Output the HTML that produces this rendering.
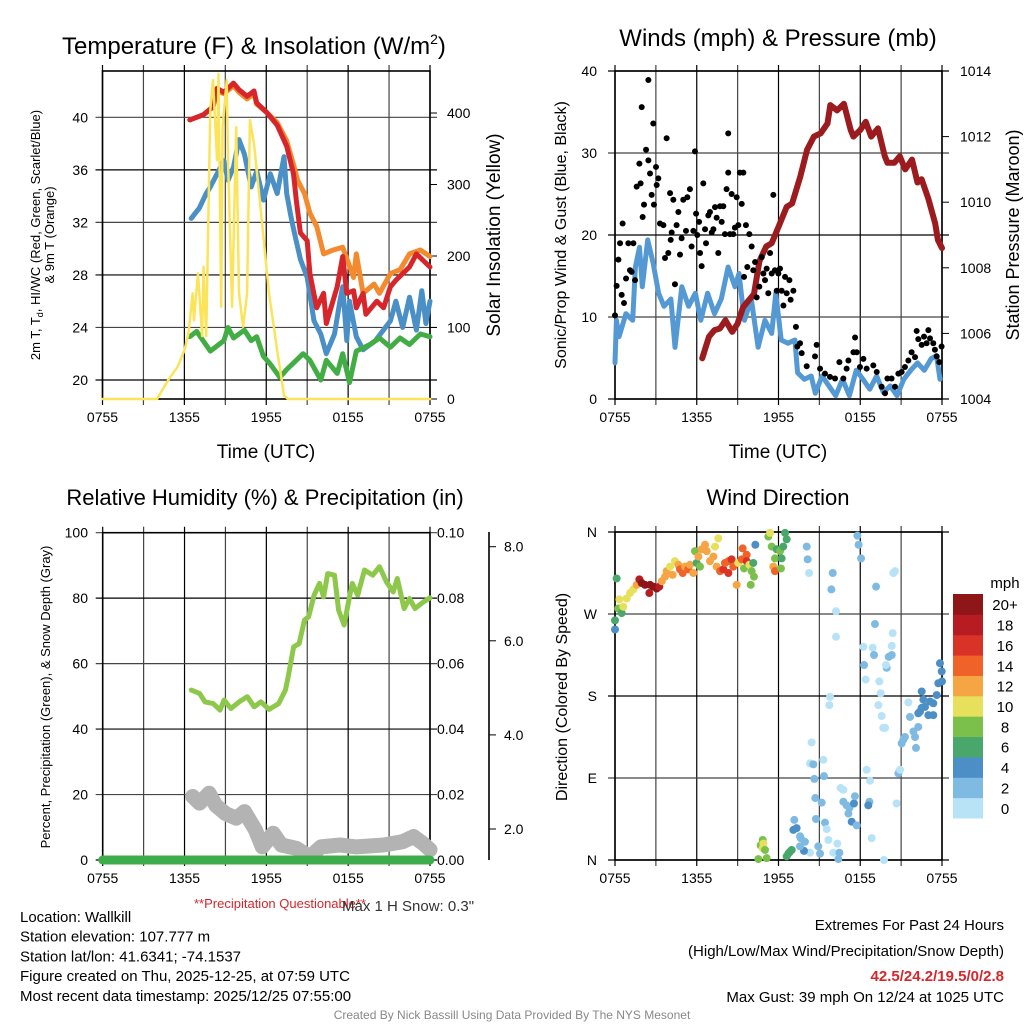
<!DOCTYPE html>
<html><head><meta charset="utf-8"><style>
html,body{margin:0;padding:0;background:#fff}
svg{display:block;font-family:"Liberation Sans",sans-serif}
</style></head><body>
<svg id="c" width="1024" height="1024" viewBox="0 0 1024 1024" xmlns="http://www.w3.org/2000/svg">
<g id="g"></g>
</svg>
<script>
// ---------- DATA (time in hours since 0755 UTC) ----------
const timeTickLabels=["0755","1355","1955","0155","0755"];
const tempTicks=[20,24,28,32,36,40];
const solarTicks=[0,100,200,300,400];
const windTicks=[0,10,20,30,40];
const presTicks=[1004,1006,1008,1010,1012,1014];
const rhTicks=[0,20,40,60,80,100];
const precipTicks=["0.00","0.02","0.04","0.06","0.08","0.10"];
const snowTicks=[2,4,6,8];
const dirTicks=["N","E","S","W","N"];
const speedBins=["0","2","4","6","8","10","12","14","16","18","20+"];

const redT_t=[6.4,7.4,8.1,8.4,8.9,9.6,10.0,10.6,11.1,11.3,12.0,12.8,13.5,14.0,14.2,14.5,15.0,15.2,15.7,16.2,16.4,17.2,17.6,17.9,18.4,18.6,19.1,19.3,20.1,20.6,21.1,21.5,22.0,22.5,23.0,23.5,24.0];
const redT_v=[39.8,40.2,40.8,42.2,41.9,42.6,42.1,41.6,42.0,41.1,40.4,39.4,37.8,35.7,33.7,31.2,30.6,28.1,25.5,26.6,24.3,27.1,29.4,26.6,26.8,25.5,26.6,25.0,26.0,25.5,27.1,27.6,28.1,28.6,29.6,29.1,28.6];
const orT_t=[6.4,7.4,8.1,8.4,8.9,9.6,10.0,10.6,11.1,11.3,12.0,12.8,13.5,14.0,14.3,14.8,15.2,15.7,16.2,16.9,17.6,18.4,18.6,19.1,19.9,20.3,21.1,21.8,22.5,23.3,24.0];
const orT_v=[39.8,40.2,40.8,42.0,41.8,42.4,41.9,41.4,41.8,41.0,40.4,39.6,38.2,36.4,35.2,34.2,32.7,31.7,29.6,29.9,30.1,27.8,29.6,26.6,27.3,26.6,28.1,28.4,29.6,29.9,29.4];
const wc_t=[6.5,7.1,7.6,7.9,8.4,8.9,9.2,9.6,10.0,10.4,10.9,11.3,11.8,12.3,12.8,13.3,13.5,13.8,14.0,14.5,15.0,15.5,16.0,16.4,17.0,17.4,17.6,17.9,18.1,18.6,19.1,20.0,21.1,21.5,22.0,22.5,23.0,23.4,23.7,24.0];
const wc_v=[32.3,33.1,34.2,34.7,35.7,36.7,35.2,36.2,38.3,37.2,34.7,35.9,33.7,35.7,34.2,37.0,34.2,32.5,31.5,29.2,27.8,24.5,23.5,22.0,23.5,26.0,27.1,23.0,26.0,23.3,22.3,23.0,24.5,26.0,24.0,26.3,23.8,26.8,24.3,26.0];
const td_t=[6.4,6.9,7.9,8.9,9.2,9.6,10.4,10.9,11.3,11.8,12.3,13.0,13.5,14.2,14.7,15.2,16.0,16.4,17.2,17.6,18.1,18.6,19.6,20.3,21.1,21.8,22.5,23.3,24.0];
const td_v=[23.3,23.7,22.2,23.0,24.0,23.2,23.8,23.0,23.3,21.8,21.2,20.2,20.8,21.5,22.0,21.5,20.0,21.5,20.5,22.0,19.8,22.2,22.7,23.2,22.5,23.2,22.7,23.5,23.3];
const sol_t=[0,4.0,4.8,5.5,6.0,6.3,6.6,6.7,7.0,7.3,7.4,7.6,7.9,8.1,8.4,8.5,8.7,8.8,9.1,9.2,9.5,9.8,10.0,10.3,10.6,10.8,11.1,11.6,12.2,12.8,13.3,13.6,24.0];
const sol_v=[0,0,26,45,68,92,148,110,176,88,185,88,404,446,334,455,129,380,446,334,129,380,148,101,148,390,357,264,148,68,5,0,0];

const wind_t=[0,0.1,0.3,0.8,1.3,1.5,1.8,2.0,2.4,2.8,3.2,3.6,4.1,4.4,4.9,5.4,5.9,6.3,6.8,7.3,7.8,8.3,8.8,9.1,9.5,10.0,10.5,11.0,11.5,11.8,12.2,12.7,13.2,13.4,13.9,14.4,14.7,15.2,15.7,16.2,16.7,17.2,17.7,18.2,18.7,19.2,19.7,20.2,20.7,21.2,21.7,22.2,22.7,23.2,23.6,23.85];
const wind_v=[4.4,9.6,7.6,10.4,9.6,16.1,18.5,13.7,19.4,16.6,12.9,11.3,12.2,6.3,13.7,11.3,12.9,9.6,12.9,10.4,12.2,16.1,13.7,15.3,9.6,12.2,6.3,9.6,8.0,12.9,7.2,6.8,7.2,3.2,2.4,2.8,0.7,2.8,1.6,0.4,2.4,0.4,3.5,2.4,1.2,2.8,0.8,1.6,0.4,2.4,3.5,4.4,3.5,4.9,5.3,2.4];
const gust_t=[0,0.12,0.25,0.37,0.49,0.56,0.66,0.81,0.98,1.1,1.22,1.35,1.47,1.59,1.79,1.88,1.96,2.03,2.13,2.28,2.45,2.45,2.57,2.69,2.81,2.86,3.01,3.06,3.18,3.3,3.55,3.67,3.79,3.91,4.04,4.09,4.16,4.28,4.4,4.52,4.65,4.77,4.89,5.01,5.21,5.31,5.5,5.62,5.75,5.87,5.95,6.04,6.17,6.24,6.36,6.48,6.61,6.68,6.85,6.97,7.1,7.22,7.34,7.46,7.58,7.71,7.83,7.95,8.07,8.19,8.31,8.31,8.44,8.56,8.68,8.8,8.93,9.05,9.17,9.3,9.42,9.47,9.61,9.71,9.86,10.03,10.15,10.28,10.4,10.59,10.77,10.89,11.01,11.13,11.25,11.38,11.5,11.62,11.74,11.87,11.99,12.11,12.23,12.36,12.48,12.6,12.8,12.89,13.09,13.28,13.38,13.58,13.7,14.07,14.68,14.8,15.05,15.41,15.78,16.15,16.47,16.76,17.0,17.13,17.5,17.62,17.74,17.98,18.23,18.47,18.96,19.21,19.57,19.82,19.99,20.3,20.55,20.8,21.04,21.28,21.53,21.77,22.02,22.14,22.26,22.51,22.68,22.87,23.0,23.12,23.36,23.48,23.61,23.8,23.97];
const gust_v=[10.2,13.8,17.0,19.0,12.7,21.4,11.7,14.7,19.0,15.7,15.5,19.0,14.5,25.9,28.7,26.3,35.6,22.2,23.7,30.4,29.1,38.9,27.5,24.9,33.6,23.7,28.3,26.1,26.9,21.4,21.2,17.2,31.8,17.8,25.1,19.4,20.3,24.3,14.0,21.2,22.8,17.6,19.6,24.3,20.5,24.6,25.6,18.6,20.5,30.2,22.6,20.0,21.6,17.8,16.2,26.3,20.7,19.0,22.4,22.8,20.3,20.7,23.4,22.1,17.8,23.5,21.6,23.5,20.1,25.6,32.4,27.6,20.1,25.0,20.1,20.9,24.6,21.2,27.6,23.8,27.6,14.9,21.2,16.1,20.1,18.6,15.7,16.7,12.4,13.7,17.3,15.3,14.5,15.9,12.9,17.8,15.3,24.9,15.7,13.2,15.3,15.9,13.2,11.4,14.9,12.9,14.5,12.1,13.2,8.8,6.4,6.8,5.6,4.0,5.2,6.6,3.7,3.1,2.7,2.5,4.5,2.5,3.7,4.7,5.7,7.5,5.7,3.9,4.9,3.7,4.1,3.3,1.5,0.7,2.5,2.5,1.5,3.1,3.3,3.9,4.7,5.7,5.1,8.3,7.3,6.6,7.6,6.8,8.4,7.4,6.8,6.0,5.2,4.5,6.4];
const pres_t=[6.4,6.9,7.3,7.7,8.1,8.6,9.0,9.4,10.2,10.6,11.1,11.5,12.1,12.6,13.0,13.6,14.1,14.6,15.1,15.6,15.8,16.3,16.8,17.3,17.5,18.0,18.4,18.8,19.3,19.8,20.0,20.5,20.9,21.3,21.8,22.2,22.5,23.0,23.5,23.7,24.0];
const pres_v=[1005.24,1005.9,1006.1,1006.15,1006.4,1006.05,1006.3,1006.8,1007.2,1008.2,1008.65,1008.75,1009.35,1009.86,1009.96,1010.78,1011.6,1012.0,1012.1,1012.4,1012.96,1012.8,1013.0,1012.2,1012.0,1012.2,1012.45,1012.0,1012.25,1011.4,1011.2,1011.2,1011.4,1011.0,1011.3,1010.6,1010.7,1010.1,1009.35,1008.85,1008.6];

const rh_t=[6.5,7.1,7.5,8.1,8.6,8.9,9.4,10.0,10.6,11.1,11.6,12.2,12.9,13.4,13.6,14.0,14.4,14.8,15.1,15.5,15.9,16.2,16.5,17.0,17.3,17.7,18.1,18.3,18.7,19.2,19.8,20.3,20.8,21.3,21.6,22.1,22.5,22.9,23.5,24.0];
const rh_v=[51.9,50.9,48.3,47.8,45.8,48.9,46.3,48.3,49.9,46.8,48.3,46.0,47.8,51.9,56.0,65.1,66.1,73.3,74.3,80.9,84.5,80.4,87.5,87.0,76.3,71.8,80.4,84.5,80.9,88.6,87.0,89.6,85.0,81.9,86.0,76.8,79.9,76.8,78.8,80.1];
const snow_t=[6.6,7.1,7.8,8.3,9.0,9.8,10.4,11.2,11.7,12.5,13.1,14.2,15.2,16.0,17.4,18.6,20.6,22.0,22.8,23.5,24.0];
const snow_v=[2.69,2.55,2.76,2.5,2.33,2.23,2.37,1.98,1.62,1.91,1.66,1.59,1.41,1.62,1.66,1.62,1.66,1.73,1.84,1.69,1.56];
const precip_t=[0,24];
const precip_v=[0,0];

// wind direction observations (time h, direction deg, speed mph) - chunks of 10
const dir_t=[0,0,0.12,0.24,0.32,0.49,0.61,0.86,1.1,1.35,
1.59,1.79,1.96,2.2,2.52,2.57,2.81,3.06,3.25,3.43,
3.67,3.79,4.04,4.23,4.4,4.65,4.77,4.97,5.14,5.38,
5.5,5.75,5.87,5.99,6.12,6.24,6.36,6.61,6.73,6.97,
7.22,7.34,7.58,7.46,7.71,7.95,8.07,8.32,8.32,8.56,
8.68,8.93,9.05,9.3,9.37,9.47,9.66,9.66,9.86,10.03,
10.15,10.2,9.96,10.3,11.25,11.38,11.5,11.62,11.74,11.74,
11.87,12.11,12.23,12.35,12.18,12.48,12.6,14.07,14.14,14.24,
15.98,15.88,16.22,16.22,17.79,17.88,18.06,19.16,19.08,20.43,
20.55,20.38,18.23,18.91,19.01,18.28,18.4,19.4,19.5,19.33,
19.57,19.69,19.82,19.94,19.89,20.09,20.31,20.31,15.78,15.73,
14.43,14.31,14.56,15.29,15.34,14.63,14.7,15.17,14.75,15.41,
15.54,15.66,14.92,15.05,14.31,13.87,13.58,13.33,13.16,13.63,
13.09,13.58,13.94,16.02,16.32,16.39,16.47,16.56,16.76,16.76,
17.0,17.13,17.2,17.37,17.54,17.61,17.74,18.47,18.72,18.67,
18.59,18.84,19.74,20.67,20.8,20.92,21.04,21.16,21.28,22.09,
21.9,22.26,21.53,21.65,22.39,22.51,22.63,22.75,23.0,23.12,
23.36,23.61,23.73,23.85,23.98,24.0,23.36,22.26,22.51,22.02,
10.52,10.69,10.84,10.84,10.89,11.01,11.13,12.6,12.72,12.84,
12.97];
const dir_d=[253,263,309,276,286,271,278,287,293,297,
302,308,304,302,293,302,300,298,300,306,
311,317,322,313,328,324,319,315,322,319,
324,315,339,326,333,322,341,346,339,328,
333,344,353,322,317,319,326,315,328,330,
322,302,326,330,342,320,335,328,324,317,
326,311,302,346,355,359,344,322,317,331,
341,339,331,344,320,359,352,344,330,315,
315,297,273,245,356,346,331,300,259,315,
317,249,234,233,225,214,198,196,183,170,
158,145,145,211,214,223,225,235,179,170,
129,106,105,110,92,89,68,63,45,41,
34,22,15,7,8,10,15,35,44,24,
33,26,20,8,18,1,8,79,77,64,
60,51,57,42,62,70,38,99,87,64,
60,24,0,62,95,99,128,132,135,123,
141,146,173,157,163,185,176,168,159,174,
172,181,194,216,207,196,159,161,167,135,
1,16,22,13,18,11,2,4,7,9,
11];
const dir_s=[4,6,6,8,10,6,10,10,10,10,
12,19,20,20,18,20,20,20,18,12,
12,12,10,12,10,12,14,14,12,14,
12,12,8,6,12,8,12,12,12,12,
12,10,10,12,14,16,14,16,14,16,
14,12,10,14,14,8,14,16,10,8,
6,8,8,4,8,10,8,12,14,8,
6,8,6,6,8,6,6,2,2,0,
2,2,0,0,2,2,2,2,2,0,
0,0,0,0,2,2,0,0,0,0,
0,0,0,2,0,2,2,0,0,0,
0,0,2,0,2,2,2,2,2,2,
0,0,2,2,0,4,2,4,2,2,
4,2,2,0,0,2,2,0,0,2,
2,2,2,4,4,2,2,0,0,2,
4,0,0,0,2,0,2,2,2,2,
2,2,0,2,4,4,4,4,4,4,
4,4,4,4,4,4,4,4,4,2,
8,8,8,10,10,8,8,6,6,6,
6];

// ---------- RENDERING ----------
const NS="http://www.w3.org/2000/svg";
const G=document.getElementById('g');
function el(tag,attrs,parent){const e=document.createElementNS(NS,tag);for(const k in attrs)e.setAttribute(k,attrs[k]);(parent||G).appendChild(e);return e;}
function txt(s,x,y,size,anchor,extra,parent){const t=el('text',Object.assign({x:x,y:y,'font-size':size,'text-anchor':anchor||'start',fill:'#000'},extra||{}),parent);t.textContent=s;return t;}
function lin(d0,d1,r0,r1){return v=>r0+(v-d0)*(r1-r0)/(d1-d0);}
function poly(ts,vs,fx,fy,attrs,parent){let d='';const n=Math.min(ts.length,vs.length);for(let i=0;i<n;i++){d+=(i?'L':'M')+fx(ts[i]).toFixed(1)+' '+fy(vs[i]).toFixed(1);}return el('path',Object.assign({d:d,fill:'none','stroke-linejoin':'round','stroke-linecap':'round'},attrs),parent);}

function frame(x0,x1,y0,y1,name,hGridVals,fy){
  const g=el('g',{});
  
  
  for(let i=0;i<=8;i++){const x=x0+(x1-x0)*i/8;el('line',{x1:x,y1:y0-6,x2:x,y2:y1+6,stroke:i%2?'#444':'#000','stroke-width':1.2},g);}
  hGridVals.forEach((v,i)=>{const y=fy(v);el('line',{x1:x0-7,y1:y,x2:x1+7,y2:y,stroke:i%2?'#444':'#000','stroke-width':1.2},g);});
  el('rect',{x:x0,y:y0,width:x1-x0,height:y1-y0,fill:'none',stroke:'#000','stroke-width':1.6},g);
  timeTickLabels.forEach((s,i)=>{const lab=txt(s,x0+(x1-x0)*i/4,y1+23,14,'middle',{},g);});
  return g;
}

// ===== Panel 1: Temperature =====
{
 const x0=102.5,x1=430,y0=71,y1=399;
 const fx=lin(0,24,x0,x1), fy=lin(20,40,380,117.3), fs=lin(0,400,399,113);
 const g=frame(x0,x1,y0,y1,'temperature-panel',tempTicks,fy);
 tempTicks.forEach(v=>txt(String(v),88,fy(v)+5,14,'end',{},g));
 solarTicks.forEach(v=>{el('line',{x1:x1,y1:fs(v),x2:x1+7,y2:fs(v),stroke:'#000'},g);txt(String(v),447,fs(v)+5,14,'start',{},g);});
 const p1=poly(wc_t,wc_v,fx,fy,{stroke:'#4a8fc6','stroke-width':5});
 const p2=poly(orT_t,orT_v,fx,fy,{stroke:'#f38a2e','stroke-width':5});
 const p3=poly(redT_t,redT_v,fx,fy,{stroke:'#d7262b','stroke-width':5});
 const p4=poly(td_t,td_v,fx,fy,{stroke:'#43ad45','stroke-width':5});
 const p5=poly(sol_t,sol_v,fx,fs,{stroke:'#fbe45a','stroke-width':2.5});
 const t=txt('Temperature (F) & Insolation (W/m',62,54,24,'start');
 const sup=el('tspan',{'font-size':14,dy:-10},t);sup.textContent='2';
 const cl=el('tspan',{dy:10},t);cl.textContent=')';
 const xt=txt('Time (UTC)',266,458,19,'middle');
 const yl=txt('',0,0,13,'middle',{transform:'translate(40,235) rotate(-90)'});
 yl.textContent='2m T, T';const sb=el('tspan',{'font-size':9,dy:3},yl);sb.textContent='d';const r=el('tspan',{dy:-3},yl);r.textContent=', HI/WC (Red, Green, Scarlet/Blue)';
 const yl2=txt('& 9m T (Orange)',0,0,13,'middle',{transform:'translate(54,235) rotate(-90)'});
 const yr=txt('Solar Insolation (Yellow)',0,0,19,'middle',{transform:'translate(500,235) rotate(-90)'});
}

// ===== Panel 2: Winds =====
{
 const x0=615,x1=942,y0=71,y1=399;
 const fx=lin(0,24,x0,x1), fy=lin(0,40,399,71), fp=lin(1004,1014,399,71);
 const g=frame(x0,x1,y0,y1,'winds-panel',windTicks,fy);
 windTicks.forEach(v=>txt(String(v),597,fy(v)+5,14,'end',{},g));
 presTicks.forEach(v=>{el('line',{x1:x1,y1:fp(v),x2:x1+7,y2:fp(v),stroke:'#000'},g);txt(String(v),960,fp(v)+5,14,'start',{},g);});
 const w=poly(wind_t,wind_v,fx,fy,{stroke:'#5599d4','stroke-width':5});
 const pr=poly(pres_t,pres_v,fx,fp,{stroke:'#9b1b1e','stroke-width':6});
 const gg=el('g',{});
 const ng=Math.min(gust_t.length,gust_v.length);
 for(let i=0;i<ng;i++){const c=el('circle',{cx:fx(gust_t[i]),cy:fy(gust_v[i]),r:3,fill:'#000'},gg);}
 const t=txt('Winds (mph) & Pressure (mb)',778,46,24,'middle');
 const xt=txt('Time (UTC)',778,458,19,'middle');
 const yl=txt('Sonic/Prop Wind & Gust (Blue, Black)',0,0,16,'middle',{transform:'translate(566,235) rotate(-90)'});
 const yr=txt('Station Pressure (Maroon)',0,0,18,'middle',{transform:'translate(1019,235) rotate(-90)'});
}

// ===== Panel 3: RH & Precip =====
{
 const x0=102.7,x1=430,y0=532.7,y1=860;
 const fx=lin(0,24,x0,x1), fy=lin(0,100,860,532.7), fsn=lin(2,8,829,546.7);
 const g=frame(x0,x1,y0,y1,'rh-precip-panel',rhTicks,fy);
 rhTicks.forEach(v=>txt(String(v),88,fy(v)+5,14,'end',{},g));
 precipTicks.forEach((s,i)=>txt(s,437,fy(rhTicks[i])+5,14,'start',{},g));
 el('line',{x1:489,y1:532,x2:489,y2:860,stroke:'#000','stroke-width':1.6},g);
 snowTicks.forEach(v=>{el('line',{x1:489,y1:fsn(v),x2:496,y2:fsn(v),stroke:'#000'},g);txt(v.toFixed(1),504,fsn(v)+5,14,'start',{},g);});
 const sn=poly(snow_t,snow_v,fx,fsn,{stroke:'#b3b3b3','stroke-width':15});
 const pp=poly(precip_t,precip_v,fx,v=>fy(v*1000),{stroke:'#3cad4a','stroke-width':9});
 const rh=poly(rh_t,rh_v,fx,fy,{stroke:'#8dc84b','stroke-width':5});
 const t=txt('Relative Humidity (%) & Precipitation (in)',265,505,22,'middle');
 const yl=txt('Percent, Precipitation (Green), & Snow Depth (Gray)',0,0,13,'middle',{transform:'translate(50,697) rotate(-90)'});
 const q=txt('**Precipitation Questionable**',280,908,13,'middle',{fill:'#d7262b'});
 const ms=txt('Max 1 H Snow: 0.3"',342,911,15,'start',{fill:'#333'});
}

// ===== Panel 4: Wind direction =====
{
 const x0=615,x1=942,y0=532,y1=860;
 const fx=lin(0,24,x0,x1), fy=lin(0,360,860,532);
 const g=frame(x0,x1,y0,y1,'wind-direction-panel',[0,90,180,270,360],fy);
 dirTicks.forEach((s,i)=>txt(s,597,fy(i*90)+5,14,'end',{},g));
 const cols=['#b8e3f7','#7fbae3','#4b8fc6','#4aa76b','#7bc04a','#e6e05c','#f6a545','#ef6228','#d93327','#b71c23','#8e1518'];
 const dg=el('g',{});
 const nd=Math.min(dir_t.length,dir_d.length,dir_s.length);
 for(let i=0;i<nd;i++){const b=Math.min(10,Math.floor(dir_s[i]/2));const c=el('circle',{cx:fx(dir_t[i]),cy:fy(dir_d[i]),r:4,fill:cols[b]},dg);}
 const lg=el('g',{});
 const bh=(818-594)/11;
 speedBins.forEach((s,i)=>{const y=818-(i+1)*bh;el('rect',{x:953,y:y,width:30,height:bh+0.5,fill:cols[i]},lg);txt(s,1005,y+bh/2+6,15,'middle',{},lg);});
 txt('mph',1005,588,15,'middle',{},lg);
 const t=txt('Wind Direction',778,505,22,'middle');
 const yl=txt('Direction (Colored By Speed)',0,0,16,'middle',{transform:'translate(567,697) rotate(-90)'});
}

// ===== Footer text =====
{
 const info=["Location: Wallkill","Station elevation: 107.777 m","Station lat/lon: 41.6341; -74.1537","Figure created on Thu, 2025-12-25, at 07:59 UTC","Most recent data timestamp: 2025/12/25 07:55:00"];
 info.forEach((s,i)=>{const t=txt(s,20,922+i*19.7,15,'start');});
 const e1=txt('Extremes For Past 24 Hours',1004,930,15,'end');
 const e2=txt('(High/Low/Max Wind/Precipitation/Snow Depth)',1004,956,15,'end');
 const e3=txt('42.5/24.2/19.5/0/2.8',1004,981,15,'end',{fill:'#d7262b','font-weight':'bold'});
 const e4=txt('Max Gust: 39 mph On 12/24 at 1025 UTC',1004,1002,15,'end');
 const cr=txt('Created By Nick Bassill Using Data Provided By The NYS Mesonet',512,1019,12,'middle',{fill:'#888'});
}
</script>
</body></html>
